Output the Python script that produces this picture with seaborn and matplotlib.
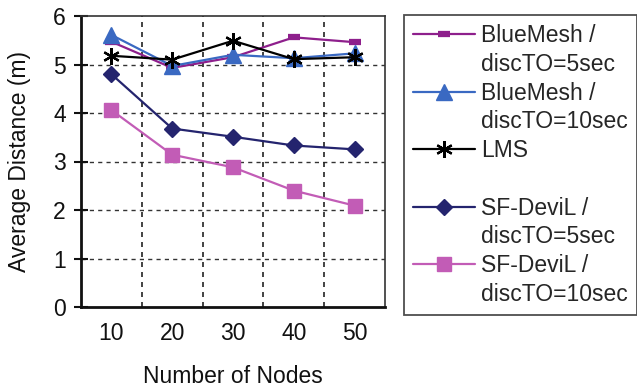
import matplotlib
matplotlib.use("Agg")
import matplotlib.pyplot as plt
import seaborn as sns
import numpy as np
from matplotlib.lines import Line2D

categories = ["10", "20", "30", "40", "50"]
bluemesh_5 = [5.47, 4.93, 5.15, 5.56, 5.46]
bluemesh_10 = [5.61, 4.97, 5.20, 5.13, 5.23]
lms = [5.18, 5.10, 5.49, 5.11, 5.15]
sfdevil_5 = [4.80, 3.68, 3.51, 3.33, 3.25]
sfdevil_10 = [4.06, 3.14, 2.88, 2.40, 2.09]

series = [
    ("BlueMesh /", "discTO=5sec", bluemesh_5, "#8E1F8C", "_", 9, 4.5),
    ("BlueMesh /", "discTO=10sec", bluemesh_10, "#3A69C2", "^", 11, 1.0),
    ("LMS", "", lms, "#000000", (6, 2, 0), 12, 1.6),
    ("SF-DeviL /", "discTO=5sec", sfdevil_5, "#24246E", "D", 8.5, 1.0),
    ("SF-DeviL /", "discTO=10sec", sfdevil_10, "#C25CB6", "s", 9.5, 1.0),
]

sns.set_theme(style="white")
plt.rcParams['font.family'] = ['Liberation Sans', 'DejaVu Sans']

fig = plt.figure(figsize=(6.37, 3.90), dpi=100)
ax = fig.add_axes([81/637, 1-307/390, (385-81)/637, (307-16)/390])

x = np.arange(len(categories))
handles = []
labels = []
for l1, l2, vals, col, mk, ms, mew in series:
    sns.lineplot(x=x, y=vals, ax=ax, color=col, marker=mk, markersize=ms,
                 markeredgewidth=mew, markeredgecolor=col, markerfacecolor=col,
                 linewidth=1.6, legend=False)
    h = Line2D([], [], color=col, marker=mk, markersize=ms, markeredgewidth=mew,
               markeredgecolor=col, markerfacecolor=col, linewidth=1.6)
    blank = Line2D([], [], color='none')
    handles += [h, blank]
    labels += [l1, l2 if l2 else " "]

ax.set_xlim(-0.5, len(categories) - 0.5)
ax.set_ylim(0, 6)
ax.set_yticks(range(0, 7))
ax.set_xticks(x)
ax.set_xticklabels(categories)
ax.minorticks_on()
ax.yaxis.set_minor_locator(matplotlib.ticker.NullLocator())
ax.set_xticks(np.arange(-0.5, len(categories), 1.0), minor=True)
ax.tick_params(axis='x', which='major', length=0, labelsize=16.5, pad=11, colors='#111111')
ax.tick_params(axis='x', which='minor', direction='inout', length=10, width=1.5, color='#111111')
ax.tick_params(axis='y', which='major', direction='inout', length=10, width=1.5,
               labelsize=16.5, pad=6, color='#111111', labelcolor='#111111')
ax.tick_params(left=True, bottom=True)

for v in range(1, 6):
    ax.axhline(v, color='#333333', linewidth=1.0, linestyle=(0, (3, 3)), zorder=0)
for b in np.arange(0.5, len(categories) - 0.5, 1.0):
    ax.axvline(b, color='#222222', linewidth=1.2, linestyle=(0, (3, 3)), zorder=0)

for side in ['left', 'bottom']:
    ax.spines[side].set_color('#111111')
    ax.spines[side].set_linewidth(2.0)
for side in ['top', 'right']:
    ax.spines[side].set_color('#333333')
    ax.spines[side].set_linewidth(1.2)

ax.set_xlabel("Number of Nodes", fontsize=16.5, labelpad=14, color='#111111')
ax.set_ylabel("Average Distance (m)", fontsize=16.5, labelpad=16, color='#111111')

leg = fig.legend(handles, labels, loc='upper left', bbox_to_anchor=(404/637, 1-15/390),
                 bbox_transform=fig.transFigure, borderaxespad=0, fontsize=16.5,
                 frameon=True, fancybox=False, edgecolor='#222222', handlelength=2.7,
                 handletextpad=0.25, labelspacing=0.25, borderpad=0.4)
leg.get_frame().set_linewidth(1.3)

fig.savefig("out.png", dpi=100)
